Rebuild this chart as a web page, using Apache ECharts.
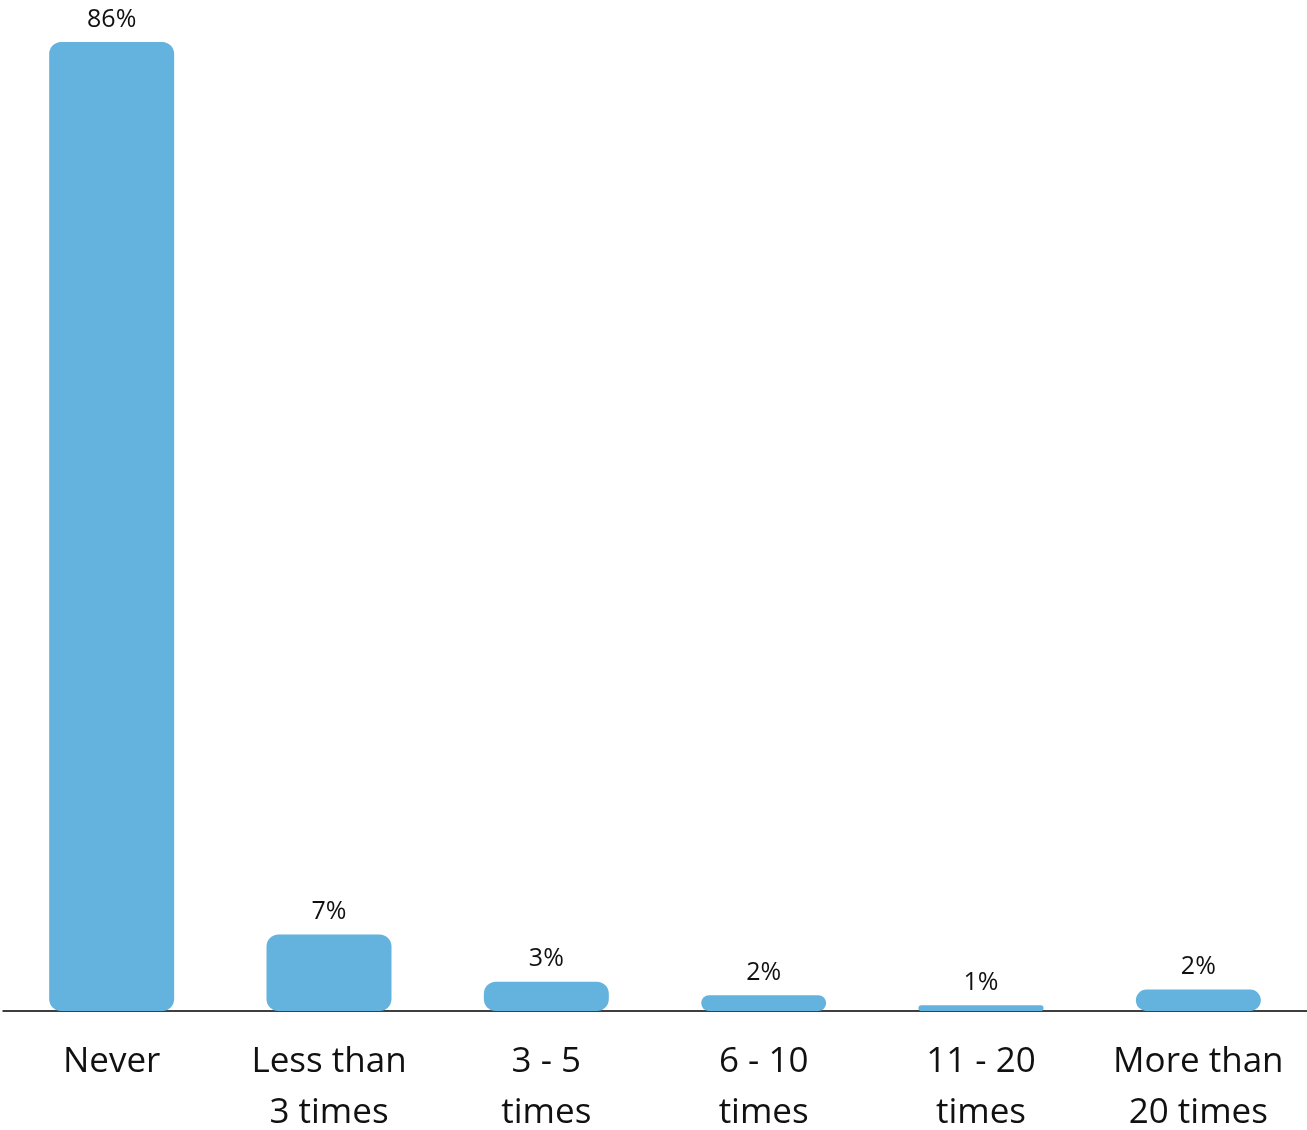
<!DOCTYPE html>
<html>
<head>
<meta charset="utf-8">
<script src="https://cdn.jsdelivr.net/npm/echarts@6/dist/echarts.min.js"></script>
<style>html,body{margin:0;padding:0;background:#fff}#c{width:1307px;height:1130px}</style>
</head>
<body>
<div id="c"></div>
<script>
const categories = ["Never", "Less than\n3 times", "3 - 5\ntimes", "6 - 10\ntimes", "11 - 20\ntimes", "More than\n20 times"];
const values = [86, 6.8, 2.6, 1.4, 0.5, 1.9];
const valueLabels = ["86%", "7%", "3%", "2%", "1%", "2%"];

const chart = echarts.init(document.getElementById('c'));
chart.setOption({
  animation: false,
  grid: { left: 3, right: 0, top: 42, bottom: 119, outerBoundsMode: 'none', containLabel: false },
  xAxis: {
    type: 'category',
    data: categories,
    axisLine: { lineStyle: { color: '#000', width: 1.5 } },
    axisTick: { show: false },
    axisLabel: {
      interval: 0,
      fontFamily: 'Open Sans',
      fontSize: 35,
      lineHeight: 51,
      color: '#111',
      margin: 26
    }
  },
  yAxis: {
    type: 'value',
    min: 0,
    max: 86,
    show: false,
    splitLine: { show: false }
  },
  series: [{
    type: 'bar',
    data: values,
    barWidth: 125,
    itemStyle: { color: '#64b3de', borderRadius: 12 },
    label: {
      show: true,
      position: 'top',
      distance: 10,
      fontFamily: 'Open Sans',
      fontSize: 25,
      color: '#111',
      formatter: p => valueLabels[p.dataIndex]
    }
  }]
});
</script>
</body>
</html>
